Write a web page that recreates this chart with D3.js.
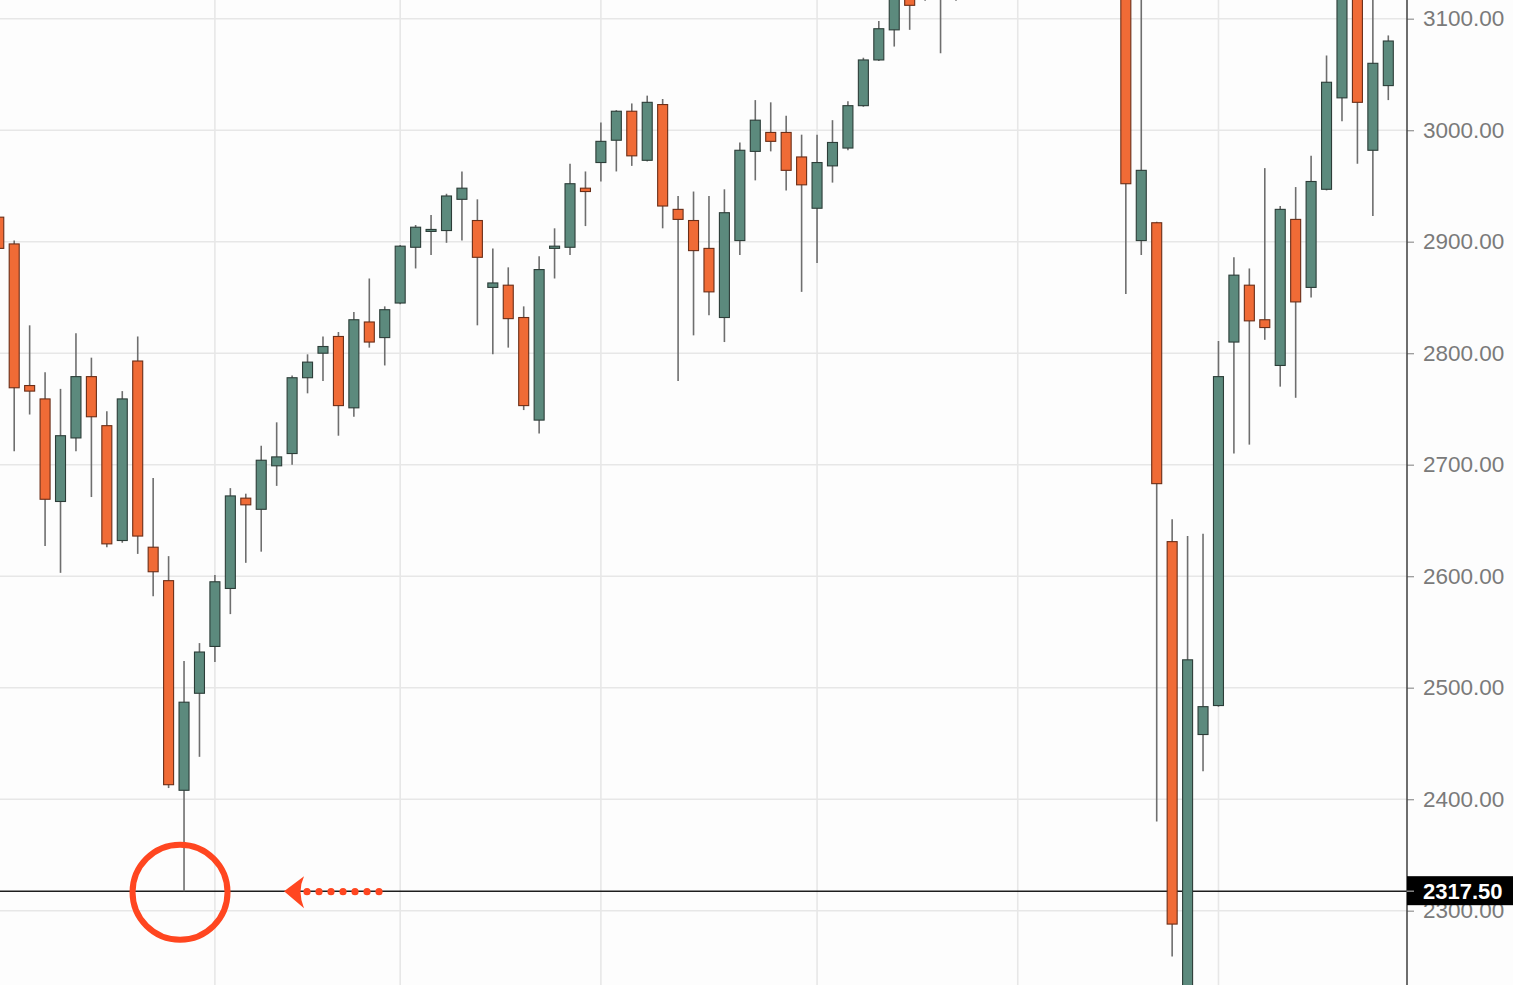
<!DOCTYPE html>
<html>
<head>
<meta charset="utf-8">
<script src="https://cdn.jsdelivr.net/npm/d3@7"></script>
<style>
  html, body { margin: 0; padding: 0; background: #fdfdfd; overflow: hidden; }
  svg { display: block; }
</style>
</head>
<body>
<svg id="chart" width="1513" height="985"></svg>
<script>
// ---- Data (weekly candles) ----
const weeks = d3.range(0, 91);
const openVals  = [2922,2898,2771,2759,2667,2724,2779,2735,2632,2793,2626,2596,2408,2495,2537,2589,2670,2660,2699,2710,2778,2800,2815,2751,2828,2814,2845,2895,2910,2910,2938,2919,2859,2861,2832,2740,2894,2895,2948,2971,2991,3017,2973,3023,2929,2919,2894,2832,2901,2981,2998,2998,2976,2930,2968,2984,3022,3063,3090,3125,3118,3140,3146,3170,3200,3235,3233,3263,3316,3292,3224,3327,3377,3335,2901,2917,2631,2210,2458,2484,2810,2861,2830,2789,2920,2859,2947,3029,3190,2982,3040];
const highVals  = [2945,2901,2825,2783,2768,2818,2796,2748,2766,2815,2688,2618,2524,2540,2601,2679,2674,2717,2738,2780,2799,2815,2819,2837,2867,2842,2897,2915,2924,2943,2963,2938,2894,2877,2842,2887,2912,2970,2963,3007,3018,3024,3031,3028,2941,2945,2941,2947,2989,3027,3025,3013,2996,2996,3009,3026,3065,3098,3135,3138,3150,3155,3180,3205,3240,3262,3270,3320,3335,3300,3335,3385,3397,3350,3136,2918,2651,2636,2638,2811,2886,2876,2966,2932,2949,2977,3067,3205,3227,3155,3085];
const lowVals   = [2873,2712,2745,2627,2603,2712,2671,2626,2630,2620,2582,2410,2317.5,2438,2523,2566,2612,2622,2681,2700,2764,2775,2726,2743,2805,2789,2844,2876,2888,2899,2901,2825,2799,2805,2749,2728,2867,2888,2914,2954,2963,2968,2972,2912,2775,2816,2834,2810,2888,2955,2981,2946,2855,2881,2953,2982,3021,3062,3075,3090,3116,3069,3116,3165,3195,3181,3210,3255,3290,3214,3220,3310,3327,2853,2888,2380,2259,2174,2425,2483,2710,2718,2812,2770,2760,2850,2946,3008,2970,2923,3027];
const closeVals = [2894,2769,2766,2669,2726,2779,2743,2629,2759,2636,2604,2413,2487,2532,2595,2672,2664,2704,2707,2778,2792,2806,2753,2830,2810,2839,2896,2913,2911,2941,2948,2886,2863,2831,2753,2875,2896,2952,2945,2990,3017,2977,3025,2932,2920,2892,2855,2926,2982,3009,2990,2964,2951,2971,2989,3022,3063,3091,3122,3112,3145,3146,3170,3200,3235,3233,3263,3316,3292,3224,3327,3377,3335,2952,2964,2683,2288,2525,2483,2779,2870,2829,2823,2929,2846,2954,3043,3185,3025,3060,3080];

const priceTicks = [2300, 2400, 2500, 2600, 2700, 2800, 2900, 3000, 3100];
const gridWeeks  = [14, 26, 39, 53, 66, 79];
const markedLow  = 2317.5;
const markedWeek = 12;

// ---- Layout ----
const W = 1513, H = 985;
const plotRight = 1407;
const svg = d3.select("#chart");

const x = d3.scaleLinear().domain([1, 90]).range([14.2, 1388.3]);
const y = d3.scaleLinear().domain([2300, 3100]).range([910.7, 18.7]);

const candles = weeks.map(i => ({
  i, o: openVals[i], h: highVals[i], l: lowVals[i], c: closeVals[i]
}));

svg.append("rect").attr("width", W).attr("height", H).attr("fill", "#fdfdfd");

svg.append("defs").append("clipPath").attr("id", "plotClip")
  .append("rect").attr("x", 0).attr("y", 0).attr("width", plotRight).attr("height", H);

const plot = svg.append("g").attr("clip-path", "url(#plotClip)");

// grid
plot.append("g").selectAll("line.h").data(priceTicks).join("line")
  .attr("x1", 0).attr("x2", plotRight)
  .attr("y1", d => y(d)).attr("y2", d => y(d))
  .attr("stroke", "#e7e7e7").attr("stroke-width", 1.6);
plot.append("g").selectAll("line.v").data(gridWeeks).join("line")
  .attr("x1", d => x(d)).attr("x2", d => x(d))
  .attr("y1", 0).attr("y2", H)
  .attr("stroke", "#e7e7e7").attr("stroke-width", 1.6);

// horizontal price line
plot.append("line")
  .attr("x1", 0).attr("x2", plotRight)
  .attr("y1", y(markedLow)).attr("y2", y(markedLow))
  .attr("stroke", "#1e1e1e").attr("stroke-width", 1.6);

// candles
const bodyW = 10;
const g = plot.append("g");
g.selectAll("line.wick").data(candles).join("line")
  .attr("x1", d => x(d.i)).attr("x2", d => x(d.i))
  .attr("y1", d => y(d.h)).attr("y2", d => y(d.l))
  .attr("stroke", "#6e6e6e").attr("stroke-width", 1.6);
g.selectAll("rect.body").data(candles).join("rect")
  .attr("x", d => x(d.i) - bodyW / 2)
  .attr("width", bodyW)
  .attr("y", d => y(Math.max(d.o, d.c)))
  .attr("height", d => Math.max(2, Math.abs(y(d.o) - y(d.c))))
  .attr("fill", d => d.c >= d.o ? "#5c8a7d" : "#f06b36")
  .attr("stroke", d => d.c >= d.o ? "#2c3d38" : "#6a2e18")
  .attr("stroke-width", 1.1);

// annotation: circle + dotted arrow
const cx = x(markedWeek) - 4, cy = y(markedLow);
const red = "#ff4620";
svg.append("circle").attr("cx", cx).attr("cy", cy + 1).attr("r", 47.5)
  .attr("fill", "none").attr("stroke", red).attr("stroke-width", 6);
const tipX = cx + 104;
svg.append("path")
  .attr("d", `M${tipX},${cy} L${tipX + 20},${cy - 15} Q${tipX + 13},${cy} ${tipX + 20},${cy + 17} Z`)
  .attr("fill", red);
svg.append("g").selectAll("circle").data(d3.range(7)).join("circle")
  .attr("cx", k => tipX + 23 + k * 12)
  .attr("cy", cy + 0.5).attr("r", 3.6).attr("fill", red);

// right price axis
const axisG = svg.append("g").attr("transform", `translate(${plotRight},0)`);
axisG.append("rect").attr("x", 0).attr("y", 0).attr("width", W - plotRight).attr("height", H).attr("fill", "#fdfdfd");
const axis = d3.axisRight(y).tickValues(priceTicks).tickFormat(d3.format(".2f")).tickSize(7).tickPadding(9);
axisG.call(axis);
axisG.select(".domain").remove();
axisG.selectAll(".tick line").attr("stroke", "#9a9a9a").attr("stroke-width", 1.3);
axisG.selectAll(".tick text")
  .attr("fill", "#7a7a7a")
  .style("font-family", "'Liberation Sans', Arial, sans-serif")
  .style("font-size", "22.5px");
axisG.append("line").attr("x1", 0).attr("x2", 0).attr("y1", 0).attr("y2", H)
  .attr("stroke", "#4a4a4a").attr("stroke-width", 1.6);

// current-price label
const lbl = axisG.append("g").attr("transform", `translate(0,${y(markedLow)})`);
lbl.append("rect").attr("x", 0).attr("y", -15).attr("width", W - plotRight).attr("height", 29).attr("fill", "#000");
lbl.append("line").attr("x1", 0).attr("x2", 7).attr("y1", 0).attr("y2", 0).attr("stroke", "#9a9a9a").attr("stroke-width", 1.3);
lbl.append("text").attr("x", 16).attr("y", 0).attr("dy", "0.35em")
  .attr("fill", "#fff")
  .style("font-family", "'Liberation Sans', Arial, sans-serif")
  .style("font-size", "22px").style("font-weight", "bold")
  .text(d3.format(".2f")(markedLow));
</script>
</body>
</html>
